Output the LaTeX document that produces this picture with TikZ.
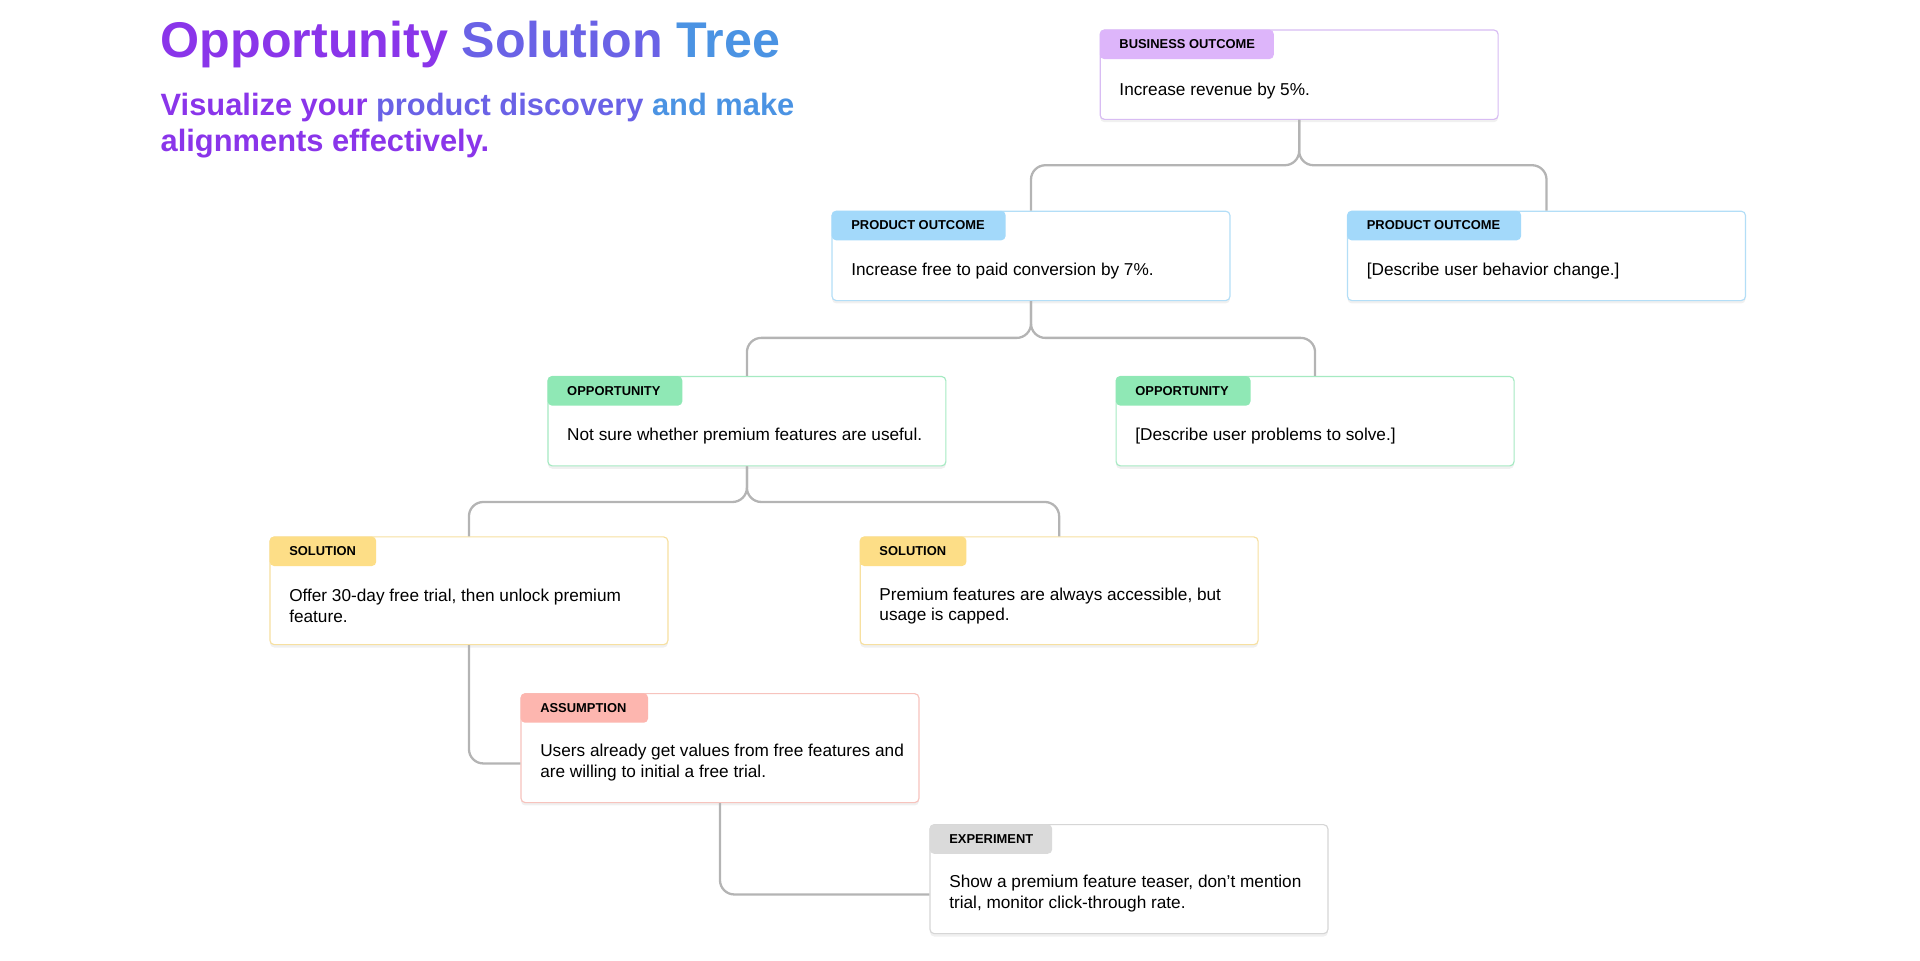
\documentclass[tikz,border=0pt]{standalone}
\usepackage{fontspec}
\setmainfont{Liberation Sans}
\usetikzlibrary{positioning, calc, shadows}
\definecolor{bizfill}{HTML}{DDB5FA}
\definecolor{bizline}{HTML}{D8BCF3}
\definecolor{prodfill}{HTML}{A3D9FA}
\definecolor{prodline}{HTML}{B3DEF7}
\definecolor{oppfill}{HTML}{8FE8B5}
\definecolor{oppline}{HTML}{A5EAC2}
\definecolor{solfill}{HTML}{FDDE87}
\definecolor{solline}{HTML}{F7E0A0}
\definecolor{asmfill}{HTML}{FDB6AF}
\definecolor{asmline}{HTML}{F7C3BD}
\definecolor{expfill}{HTML}{DADADA}
\definecolor{expline}{HTML}{D6D6D6}
\definecolor{linkgray}{HTML}{B4B4B4}
\definecolor{titleA}{HTML}{8A35EA}
\definecolor{titleB}{HTML}{6A62E6}
\definecolor{titleC}{HTML}{4B93E3}
\tikzset{
  card/.style={draw=#1, line width=0.8pt, fill=white, rounded corners=3pt, anchor=north west,
    minimum width=9.75cm, inner sep=0pt, drop shadow={opacity=0.12, shadow xshift=0pt, shadow yshift=-2pt}},
  tag/.style={fill=#1, anchor=north west, minimum height=0.72cm, inner sep=0pt,
    rounded corners=3pt, font=\fontsize{9}{10}\selectfont\bfseries, align=left},
  body/.style={anchor=west, align=left, inner sep=0pt, font=\fontsize{12}{14.5}\selectfont},
  conn/.style={draw=linkgray, line width=1.6pt, rounded corners=10pt}
}
\begin{document}
\begin{tikzpicture}[x=0.03cm, y=-0.03cm]
\useasboundingbox (0,0) rectangle (1568,784);
% heading
\node[anchor=base west, inner sep=0pt, font=\fontsize{35}{40}\selectfont\bfseries] (title) at (131,47)
  {\textcolor{titleA}{Opportunity} \textcolor{titleB}{Solution} \textcolor{titleC}{Tree}};
\node[anchor=base west, inner sep=0pt, align=left, font=\fontsize{21.5}{25}\selectfont\bfseries] (sub) at (131,124)
  {\textcolor{titleA}{Visualize your} \textcolor{titleB}{product discovery} \textcolor{titleC}{and make}\\
   \textcolor{titleA}{alignments effectively.}};

% cards
\node[card=bizline, minimum height=2.19cm] (bo) at (898,24) {};
\node[tag=bizfill, minimum width=4.26cm] (botag) at (898,24) {};
\node[anchor=west, font=\fontsize{9}{10}\selectfont\bfseries, inner sep=0pt] (bolab) at (914,36) {BUSINESS OUTCOME};
\node[body] (botxt) at (914,74) {Increase revenue by 5\%.};

\node[card=prodline, minimum height=2.19cm] (po1) at (679,172) {};
\node[tag=prodfill, minimum width=4.26cm] (po1tag) at (679,172) {};
\node[anchor=west, font=\fontsize{9}{10}\selectfont\bfseries, inner sep=0pt] (po1lab) at (695,184) {PRODUCT OUTCOME};
\node[body] (po1txt) at (695,221) {Increase free to paid conversion by 7\%.};

\node[card=prodline, minimum height=2.19cm] (po2) at (1100,172) {};
\node[tag=prodfill, minimum width=4.26cm] (po2tag) at (1100,172) {};
\node[anchor=west, font=\fontsize{9}{10}\selectfont\bfseries, inner sep=0pt] (po2lab) at (1116,184) {PRODUCT OUTCOME};
\node[body] (po2txt) at (1116,221) {[Describe user behavior change.]};

\node[card=oppline, minimum height=2.19cm] (op1) at (447,307) {};
\node[tag=oppfill, minimum width=3.3cm] (op1tag) at (447,307) {};
\node[anchor=west, font=\fontsize{9}{10}\selectfont\bfseries, inner sep=0pt] (op1lab) at (463,319) {OPPORTUNITY};
\node[body] (op1txt) at (463,356) {Not sure whether premium features are useful.};

\node[card=oppline, minimum height=2.19cm] (op2) at (911,307) {};
\node[tag=oppfill, minimum width=3.3cm] (op2tag) at (911,307) {};
\node[anchor=west, font=\fontsize{9}{10}\selectfont\bfseries, inner sep=0pt] (op2lab) at (927,319) {OPPORTUNITY};
\node[body] (op2txt) at (927,356) {[Describe user problems to solve.]};

\node[card=solline, minimum height=2.64cm] (so1) at (220,438) {};
\node[tag=solfill, minimum width=2.61cm] (so1tag) at (220,438) {};
\node[anchor=west, font=\fontsize{9}{10}\selectfont\bfseries, inner sep=0pt] (so1lab) at (236,450) {SOLUTION};
\node[body] (so1txt) at (236,495) {Offer 30-day free trial, then unlock premium\\feature.};

\node[card=solline, minimum height=2.64cm] (so2) at (702,438) {};
\node[tag=solfill, minimum width=2.61cm] (so2tag) at (702,438) {};
\node[anchor=west, font=\fontsize{9}{10}\selectfont\bfseries, inner sep=0pt] (so2lab) at (718,450) {SOLUTION};
\node[body] (so2txt) at (718,495) {Premium features are always accessible, but\\usage is capped.};

\node[card=asmline, minimum height=2.67cm] (as) at (425,566) {};
\node[tag=asmfill, minimum width=3.12cm] (astag) at (425,566) {};
\node[anchor=west, font=\fontsize{9}{10}\selectfont\bfseries, inner sep=0pt] (aslab) at (441,578) {ASSUMPTION};
\node[body] (astxt) at (441,623) {Users already get values from free features and\\are willing to initial a free trial.};

\node[card=expline, minimum height=2.67cm] (ex) at (759,673) {};
\node[tag=expfill, minimum width=3.0cm] (extag) at (759,673) {};
\node[anchor=west, font=\fontsize{9}{10}\selectfont\bfseries, inner sep=0pt] (exlab) at (775,685) {EXPERIMENT};
\node[body] (extxt) at (775,730) {Show a premium feature teaser, don’t mention\\trial, monitor click-through rate.};

% links
\draw[conn] (bo.south) -- ++(0,37) -| (po1.north);
\draw[conn] (bo.south) -- ++(0,37) -| (po2.north);
\draw[conn] (po1.south) -- ++(0,30) -| (op1.north);
\draw[conn] (po1.south) -- ++(0,30) -| (op2.north);
\draw[conn] (op1.south) -- ++(0,29) -| (so1.north);
\draw[conn] (op1.south) -- ++(0,29) -| (so2.north);
\draw[conn] (so1.south) |- ($(as.west)+(0,12.5)$);
\draw[conn] (as.south) |- ($(ex.west)+(0,12.5)$);
\end{tikzpicture}
\end{document}
